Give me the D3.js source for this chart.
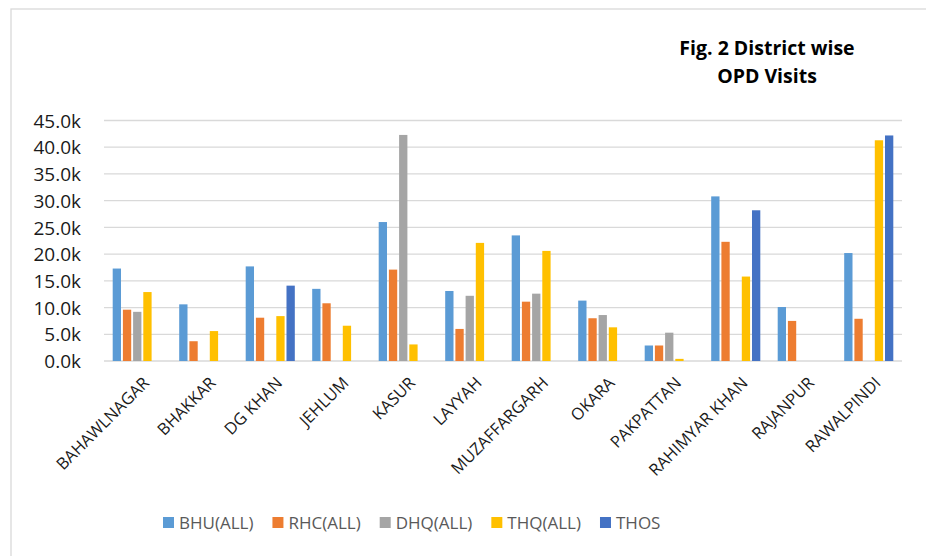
<!DOCTYPE html>
<html>
<head>
<meta charset="utf-8">
<script src="https://cdn.jsdelivr.net/npm/d3@7"></script>
<style>
  html, body { margin: 0; padding: 0; background: #fff; }
  svg { display: block; }
</style>
</head>
<body>
<svg id="chart" width="926" height="556"></svg>
<script>
// ---- Data ----
const categories = ["BAHAWLNAGAR", "BHAKKAR", "DG KHAN", "JEHLUM", "KASUR", "LAYYAH",
  "MUZAFFARGARH", "OKARA", "PAKPATTAN", "RAHIMYAR KHAN", "RAJANPUR", "RAWALPINDI"];
const seriesNames = ["BHU(ALL)", "RHC(ALL)", "DHQ(ALL)", "THQ(ALL)", "THOS"];
const bhu  = [17300, 10600, 17700, 13500, 26000, 13100, 23500, 11300, 2900, 30800, 10100, 20200];
const rhc  = [9600, 3700, 8100, 10800, 17100, 6000, 11100, 8000, 2900, 22300, 7500, 7900];
const dhq  = [9200, null, null, null, 42300, 12200, 12600, 8600, 5300, null, null, null];
const thq  = [12900, 5600, 8400, 6600, 3100, 22100, 20600, 6300, 400, 15800, null, 41300];
const thos = [null, null, 14100, null, null, null, null, null, null, 28200, null, 42200];
const seriesValues = [bhu, rhc, dhq, thq, thos];
const seriesColors = ["#5b9bd5", "#ed7d31", "#a5a5a5", "#ffc000", "#4472c4"];
const yTicks = [0, 5000, 10000, 15000, 20000, 25000, 30000, 35000, 40000, 45000];
const titleLines = ["Fig. 2 District wise", "OPD Visits"];

// ---- Layout ----
const svg = d3.select("#chart");
const plot = { left: 104, right: 902, top: 120.5, bottom: 361 };

// chart area border
svg.append("rect")
  .attr("x", 11).attr("y", 9).attr("width", 930).attr("height", 560)
  .attr("fill", "none").attr("stroke", "#d9d9d9").attr("stroke-width", 1.3);

const x0 = d3.scaleBand().domain(categories).range([plot.left, plot.right]).padding(0);
const inner = 8.7;
const x1 = d3.scaleBand().domain(seriesNames)
  .range([inner, x0.bandwidth() - inner]).paddingInner(0.186).paddingOuter(0);
const y = d3.scaleLinear().domain([0, 45000]).range([plot.bottom, plot.top]);

// gridlines
svg.append("g").selectAll("line").data(yTicks).join("line")
  .attr("x1", plot.left).attr("x2", plot.right)
  .attr("y1", d => y(d)).attr("y2", d => y(d))
  .attr("stroke", "#d9d9d9").attr("stroke-width", 1.3);

// y axis labels
const yAxis = d3.axisLeft(y).tickValues(yTicks)
  .tickFormat(d => (d / 1000).toFixed(1) + "k").tickSize(0).tickPadding(0);
const gy = svg.append("g").attr("transform", "translate(81,0)").call(yAxis);
gy.select(".domain").remove();
gy.selectAll("text")
  .attr("font-family", "'Open Sans', sans-serif").attr("font-size", 19)
  .attr("fill", "#1a1a1a").attr("dy", "0.35em");

// bars
const groups = svg.append("g").selectAll("g").data(categories).join("g")
  .attr("transform", d => `translate(${x0(d)},0)`);
groups.selectAll("rect")
  .data((c, i) => seriesNames.map((s, k) => ({ s, k, v: seriesValues[k][i] })).filter(d => d.v != null))
  .join("rect")
  .attr("x", d => x1(d.s))
  .attr("width", x1.bandwidth())
  .attr("y", d => y(d.v))
  .attr("height", d => y(0) - y(d.v))
  .attr("fill", d => seriesColors[d.k]);

// x axis labels
const xAxis = d3.axisBottom(x0).tickSize(0).tickPadding(0);
const gx = svg.append("g").attr("transform", `translate(0,${plot.bottom})`).call(xAxis);
gx.select(".domain").remove();
gx.selectAll("text")
  .attr("font-family", "'Open Sans', sans-serif").attr("font-size", 16.5)
  .attr("fill", "#1a1a1a")
  .attr("text-anchor", "end")
  .attr("dy", null).attr("y", null)
  .attr("transform", "translate(13,23) rotate(-45)");

// title
svg.append("text")
  .attr("font-family", "'Open Sans', sans-serif").attr("font-size", 19.5)
  .attr("font-weight", "bold").attr("fill", "#000").attr("text-anchor", "middle")
  .selectAll("tspan").data(titleLines).join("tspan")
  .attr("x", 767).attr("y", (d, i) => 55 + i * 28).text(d => d);

// legend
const legend = svg.append("g").attr("transform", "translate(163,516)");
let lx = 0;
seriesNames.forEach((s, k) => {
  const g = legend.append("g").attr("transform", `translate(${lx},0)`);
  g.append("rect").attr("width", 11).attr("height", 11).attr("y", 1).attr("fill", seriesColors[k]);
  const t = g.append("text").attr("x", 16).attr("y", 12.5)
    .attr("font-family", "'Open Sans', sans-serif").attr("font-size", 17)
    .attr("fill", "#595959").text(s);
  lx += 16 + t.node().getComputedTextLength() + 19;
});
</script>
</body>
</html>
